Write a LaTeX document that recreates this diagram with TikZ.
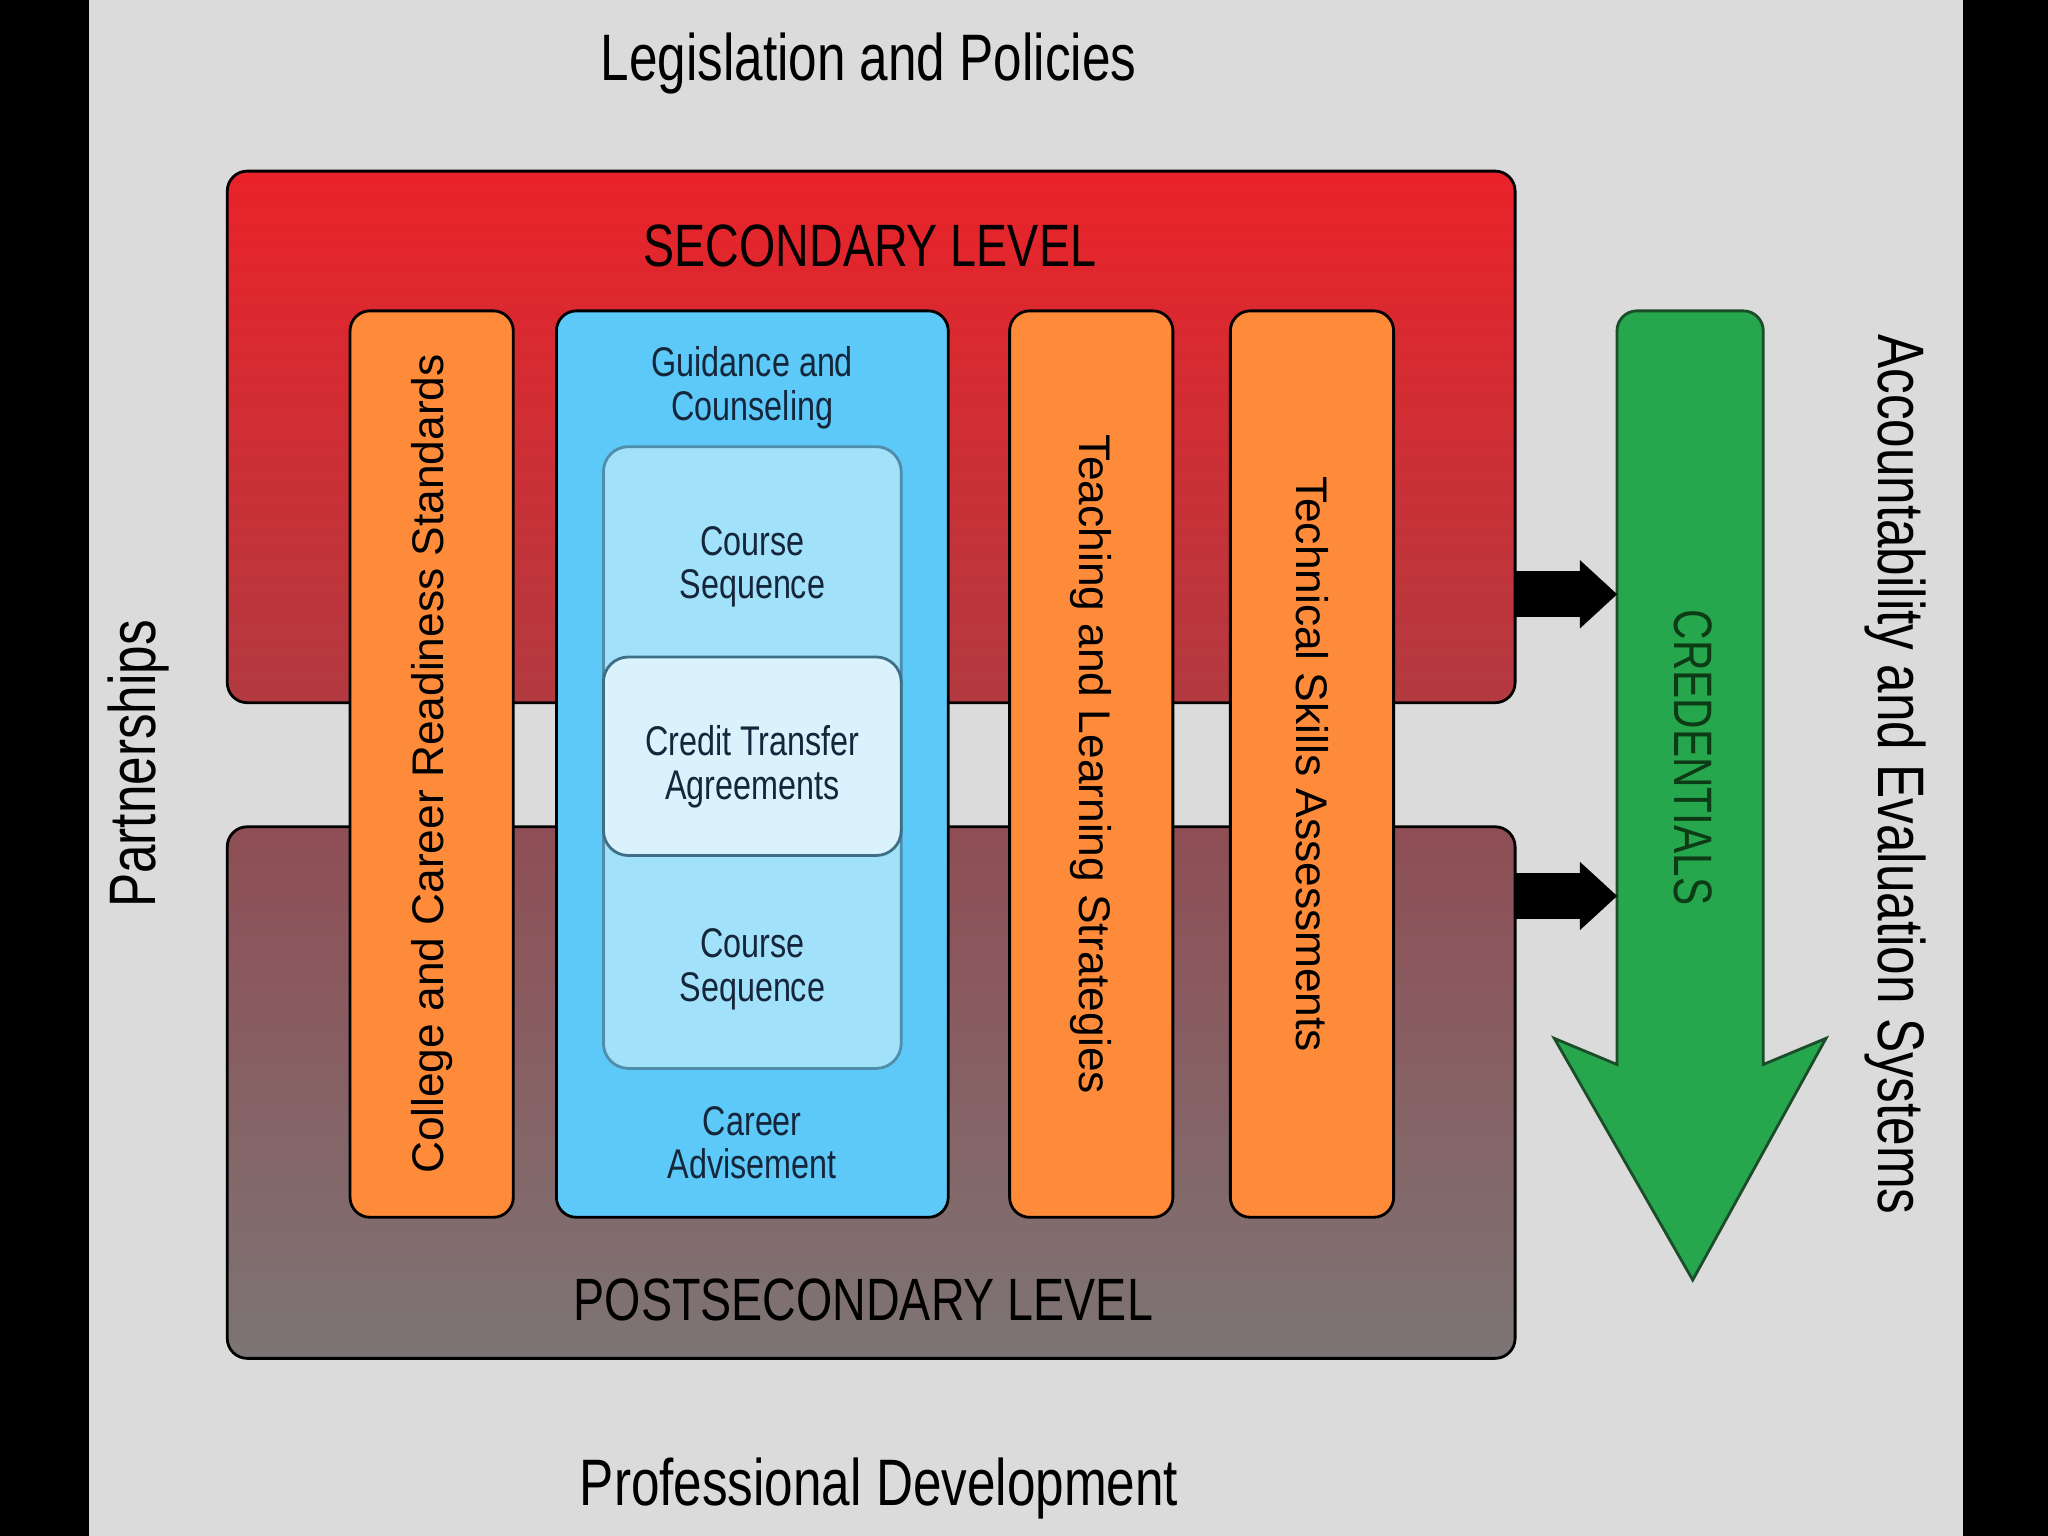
\documentclass[tikz,border=0pt]{standalone}
\usepackage{fontspec}
\setmainfont{Liberation Sans}
\newfontfamily\narrowfont[FakeStretch=0.78]{Liberation Sans}
\usetikzlibrary{arrows.meta, fit, positioning}

\definecolor{bgGray}{HTML}{DCDBDC}
\definecolor{secTop}{HTML}{EA2229}
\definecolor{secBot}{HTML}{B23A40}
\definecolor{postTop}{HTML}{8F4E55}
\definecolor{postBot}{HTML}{7D7575}
\definecolor{colOrange}{HTML}{FD8B3A}
\definecolor{colBlue}{HTML}{5DC9F9}
\definecolor{seqBlue}{HTML}{A2E1FA}
\definecolor{seqLine}{HTML}{4F8DAA}
\definecolor{ctaBlue}{HTML}{DAF2FC}
\definecolor{ctaLine}{HTML}{3F6F85}
\definecolor{credGreen}{HTML}{26A64D}
\definecolor{credLine}{HTML}{1B4D2A}
\definecolor{credText}{HTML}{0D3B16}
\definecolor{navyText}{HTML}{15253A}

\tikzset{
  levelbox/.style={draw=black, line width=0.8pt, rounded corners=2mm, inner sep=0pt, outer sep=0pt},
  colbox/.style={draw=black, line width=0.8pt, rounded corners=2mm, inner sep=0pt, outer sep=0pt},
  seqbox/.style={draw=seqLine, line width=0.8pt, rounded corners=2.5mm, fill=seqBlue, inner sep=0pt, outer sep=0pt},
  bigtext/.style={font=\fontsize{18.7}{20}\narrowfont},
  leveltext/.style={font=\fontsize{17}{19}\narrowfont},
  coltext/.style={font=\fontsize{12.6}{14}\selectfont},
  bluetext/.style={font=\fontsize{11.8}{12.4}\narrowfont, text=navyText, align=center},
  blockarrow/.style={line width=4.57mm, -{Triangle[length=3.7mm, width=6.8mm, line width=0.01pt]}}
}

\begin{document}
\begin{tikzpicture}[x=0.130612mm, y=-0.130612mm]
	\useasboundingbox (0,0) rectangle (1568,1176);
	\fill[black] (0,0) rectangle (1568,1176);
	\fill[bgGray] (68,0) rectangle (1503,1176);

	% secondary and postsecondary levels
	\node[levelbox, top color=secTop, bottom color=secBot, fit={(174,131) (1160,538)}] (sec) {};
	\node[levelbox, top color=postTop, bottom color=postBot, fit={(174,633) (1160,1040)}] (post) {};
	\node[leveltext] (seclbl) at (666,188) {SECONDARY LEVEL};
	\node[leveltext] (postlbl) at (661,995) {POSTSECONDARY LEVEL};

	% columns
	\node[colbox, fill=colOrange, fit={(268,238) (393,932)}] (ccr) {};
	\node[colbox, fill=colBlue, fit={(426,238) (726,932)}] (guide) {};
	\node[colbox, fill=colOrange, fit={(773,238) (898,932)}] (teach) {};
	\node[colbox, fill=colOrange, fit={(942,238) (1067,932)}] (tsa) {};
	\node[coltext, rotate=90] (ccrlbl) at (ccr.center) {College and Career Readiness Standards};
	\node[coltext, rotate=-90] (teachlbl) at (teach.center) {Teaching and Learning Strategies};
	\node[coltext, rotate=-90] (tsalbl) at (tsa.center) {Technical Skills Assessments};

	% guidance column
	\node[seqbox, fit={(462,342) (690,818)}] (seq) {};
	\node[seqbox, fill=ctaBlue, draw=ctaLine, fit={(462,503) (690,655)}] (cta) {};
	\node[bluetext] (guidelbl) at (576,297) {Guidance and\\Counseling};
	\node[bluetext] (seqA) at (576,434) {Course\\Sequence};
	\node[bluetext] (ctalbl) at (576,587) {Credit Transfer\\Agreements};
	\node[bluetext] (seqB) at (576,742) {Course\\Sequence};
	\node[bluetext] (career) at (576,875) {Career\\Advisement};

	% credentials
	\filldraw[fill=credGreen, draw=credLine, line width=0.8pt] (1238,815) -- (1238,500) [rounded corners=2mm] -- (1238,238) -- (1350,238) -- (1350,500) [sharp corners] -- (1350,815) -- (1398,795) -- (1296,980) -- (1190,795) -- cycle;
	\node[font=\fontsize{15.4}{16}\narrowfont, text=credText, rotate=-90] (credlbl) at (1296,580) {CREDENTIALS};
	\coordinate (credA) at (1238,455);
	\coordinate (credB) at (1238,686);
	\draw[blockarrow] (sec.east |- credA) -- (credA);
	\draw[blockarrow] (post.east |- credB) -- (credB);

	% outer labels
	\node[bigtext] (leg) at (665,49) {Legislation and Policies};
	\node[bigtext] (prof) at (673,1140) {Professional Development};
	\node[bigtext, rotate=90] (part) at (106,585) {Partnerships};
	\node[bigtext, rotate=-90] (acc) at (1451,593) {Accountability and Evaluation Systems};
\end{tikzpicture}
\end{document}
